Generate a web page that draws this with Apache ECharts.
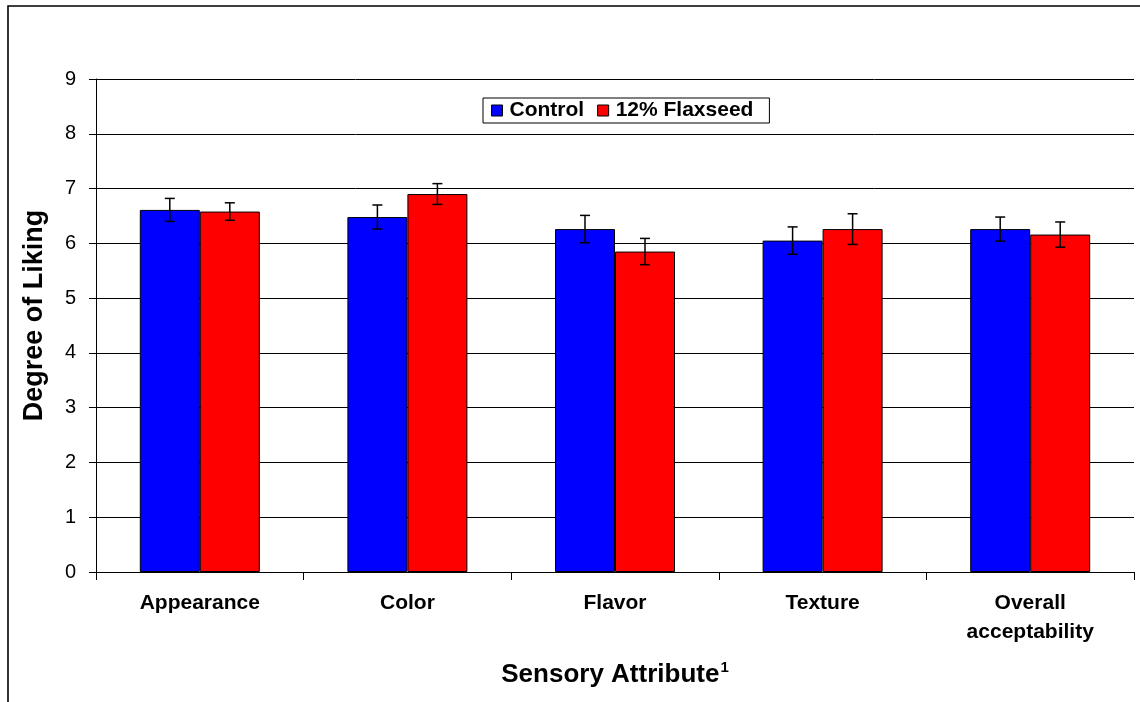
<!DOCTYPE html>
<html>
<head>
<meta charset="utf-8">
<script src="https://cdn.jsdelivr.net/npm/echarts@6/dist/echarts.min.js"></script>
<style>
  html, body { margin: 0; padding: 0; background: #fff; }
  #chart { width: 1140px; height: 702px; }
</style>
</head>
<body>
<div id="chart"></div>
<script>
// data
const categories = ["Appearance", "Color", "Flavor", "Texture", "Overall\nacceptability"];
const controlMean = [6.61, 6.48, 6.26, 6.05, 6.26];
const controlErr = [0.21, 0.22, 0.25, 0.25, 0.22];
const flaxMean = [6.58, 6.90, 5.85, 6.26, 6.16];
const flaxErr = [0.16, 0.19, 0.24, 0.28, 0.23];
const yTicks = [0, 1, 2, 3, 4, 5, 6, 7, 8, 9];

const FONT = "Liberation Sans, Arial, sans-serif";
const BAR_W = 60;

var chartDom = document.getElementById("chart");
var mychart = echarts.init(chartDom);

// error bar drawn around bar centre, shifted by offset px from category centre
function errorBars(means, errs, offset) {
  return function (params, api) {
    var i = api.value(0);
    var hi = api.coord([i, means[i] + errs[i]]);
    var lo = api.coord([i, means[i] - errs[i]]);
    var x = hi[0] + offset;
    var cap = 5;
    var style = { stroke: "#000", lineWidth: 1.5 };
    return {
      type: "group",
      children: [
        { type: "line", shape: { x1: x, y1: hi[1], x2: x, y2: lo[1] }, style: style },
        { type: "line", shape: { x1: x - cap, y1: hi[1], x2: x + cap, y2: hi[1] }, style: style },
        { type: "line", shape: { x1: x - cap, y1: lo[1], x2: x + cap, y2: lo[1] }, style: style },
      ],
    };
  };
}

var option = {
  animation: false,
  textStyle: { fontFamily: FONT },
  graphic: [
    {
      type: "rect",
      shape: { x: 8, y: 6, width: 1200, height: 800 },
      style: { fill: "none", stroke: "#000", lineWidth: 1.6 },
      silent: true,
    },
  ],
  grid: { left: 96, right: 6, top: 79, bottom: 130 },
  legend: {
    left: 483,
    top: 98,
    padding: [2, 16, 2, 8],
    borderColor: "#000",
    borderWidth: 1,
    itemGap: 13,
    itemWidth: 11,
    itemHeight: 11,
    icon: "rect",
    itemStyle: { borderColor: "#000", borderWidth: 1 },
    textStyle: { fontFamily: FONT, fontSize: 21, fontWeight: "bold", color: "#000", padding: [0, 0, 0, 2] },
    data: ["Control", "12% Flaxseed"],
  },
  xAxis: {
    type: "category",
    data: categories,
    axisLine: { lineStyle: { color: "#000", width: 1 } },
    axisTick: { show: true, length: 8, inside: false, lineStyle: { color: "#000" } },
    axisLabel: {
      color: "#000",
      fontFamily: FONT,
      fontSize: 21,
      fontWeight: "bold",
      lineHeight: 29,
      margin: 17,
    },
    name: "{a|Sensory Attribute}{s|1}",
    nameLocation: "middle",
    nameGap: 88,
    nameTextStyle: {
      rich: {
        a: { fontFamily: FONT, fontSize: 26, fontWeight: "bold", color: "#000" },
        s: { fontFamily: FONT, fontSize: 15, fontWeight: "bold", color: "#000", verticalAlign: "top", padding: [0, 0, 14, 1] },
      },
    },
  },
  yAxis: {
    type: "value",
    min: yTicks[0],
    max: yTicks[yTicks.length - 1],
    interval: 1,
    axisLine: { show: true, lineStyle: { color: "#000", width: 1 } },
    axisTick: { show: true, length: 7, lineStyle: { color: "#000" } },
    splitLine: { show: true, lineStyle: { color: "#000", width: 1 } },
    axisLabel: { color: "#000", fontFamily: FONT, fontSize: 20, margin: 20 },
    name: "Degree of Liking",
    nameLocation: "middle",
    nameGap: 48,
    nameTextStyle: {
      fontFamily: FONT,
      fontSize: 27,
      fontWeight: "bold",
      color: "#000",
      padding: [0, 0, 0, 20],
    },
  },
  series: [
    {
      name: "Control",
      type: "bar",
      data: controlMean,
      barWidth: BAR_W,
      barGap: "0%",
      itemStyle: { color: "#0000ff", borderColor: "#000", borderWidth: 1 },
    },
    {
      name: "12% Flaxseed",
      type: "bar",
      data: flaxMean,
      barWidth: BAR_W,
      barGap: "0%",
      itemStyle: { color: "#ff0000", borderColor: "#000", borderWidth: 1 },
    },
    {
      type: "custom",
      renderItem: errorBars(controlMean, controlErr, -BAR_W / 2),
      data: controlMean.map((v, i) => [i, v]),
      z: 5,
      silent: true,
    },
    {
      type: "custom",
      renderItem: errorBars(flaxMean, flaxErr, BAR_W / 2),
      data: flaxMean.map((v, i) => [i, v]),
      z: 5,
      silent: true,
    },
  ],
};

mychart.setOption(option);
</script>
</body>
</html>
